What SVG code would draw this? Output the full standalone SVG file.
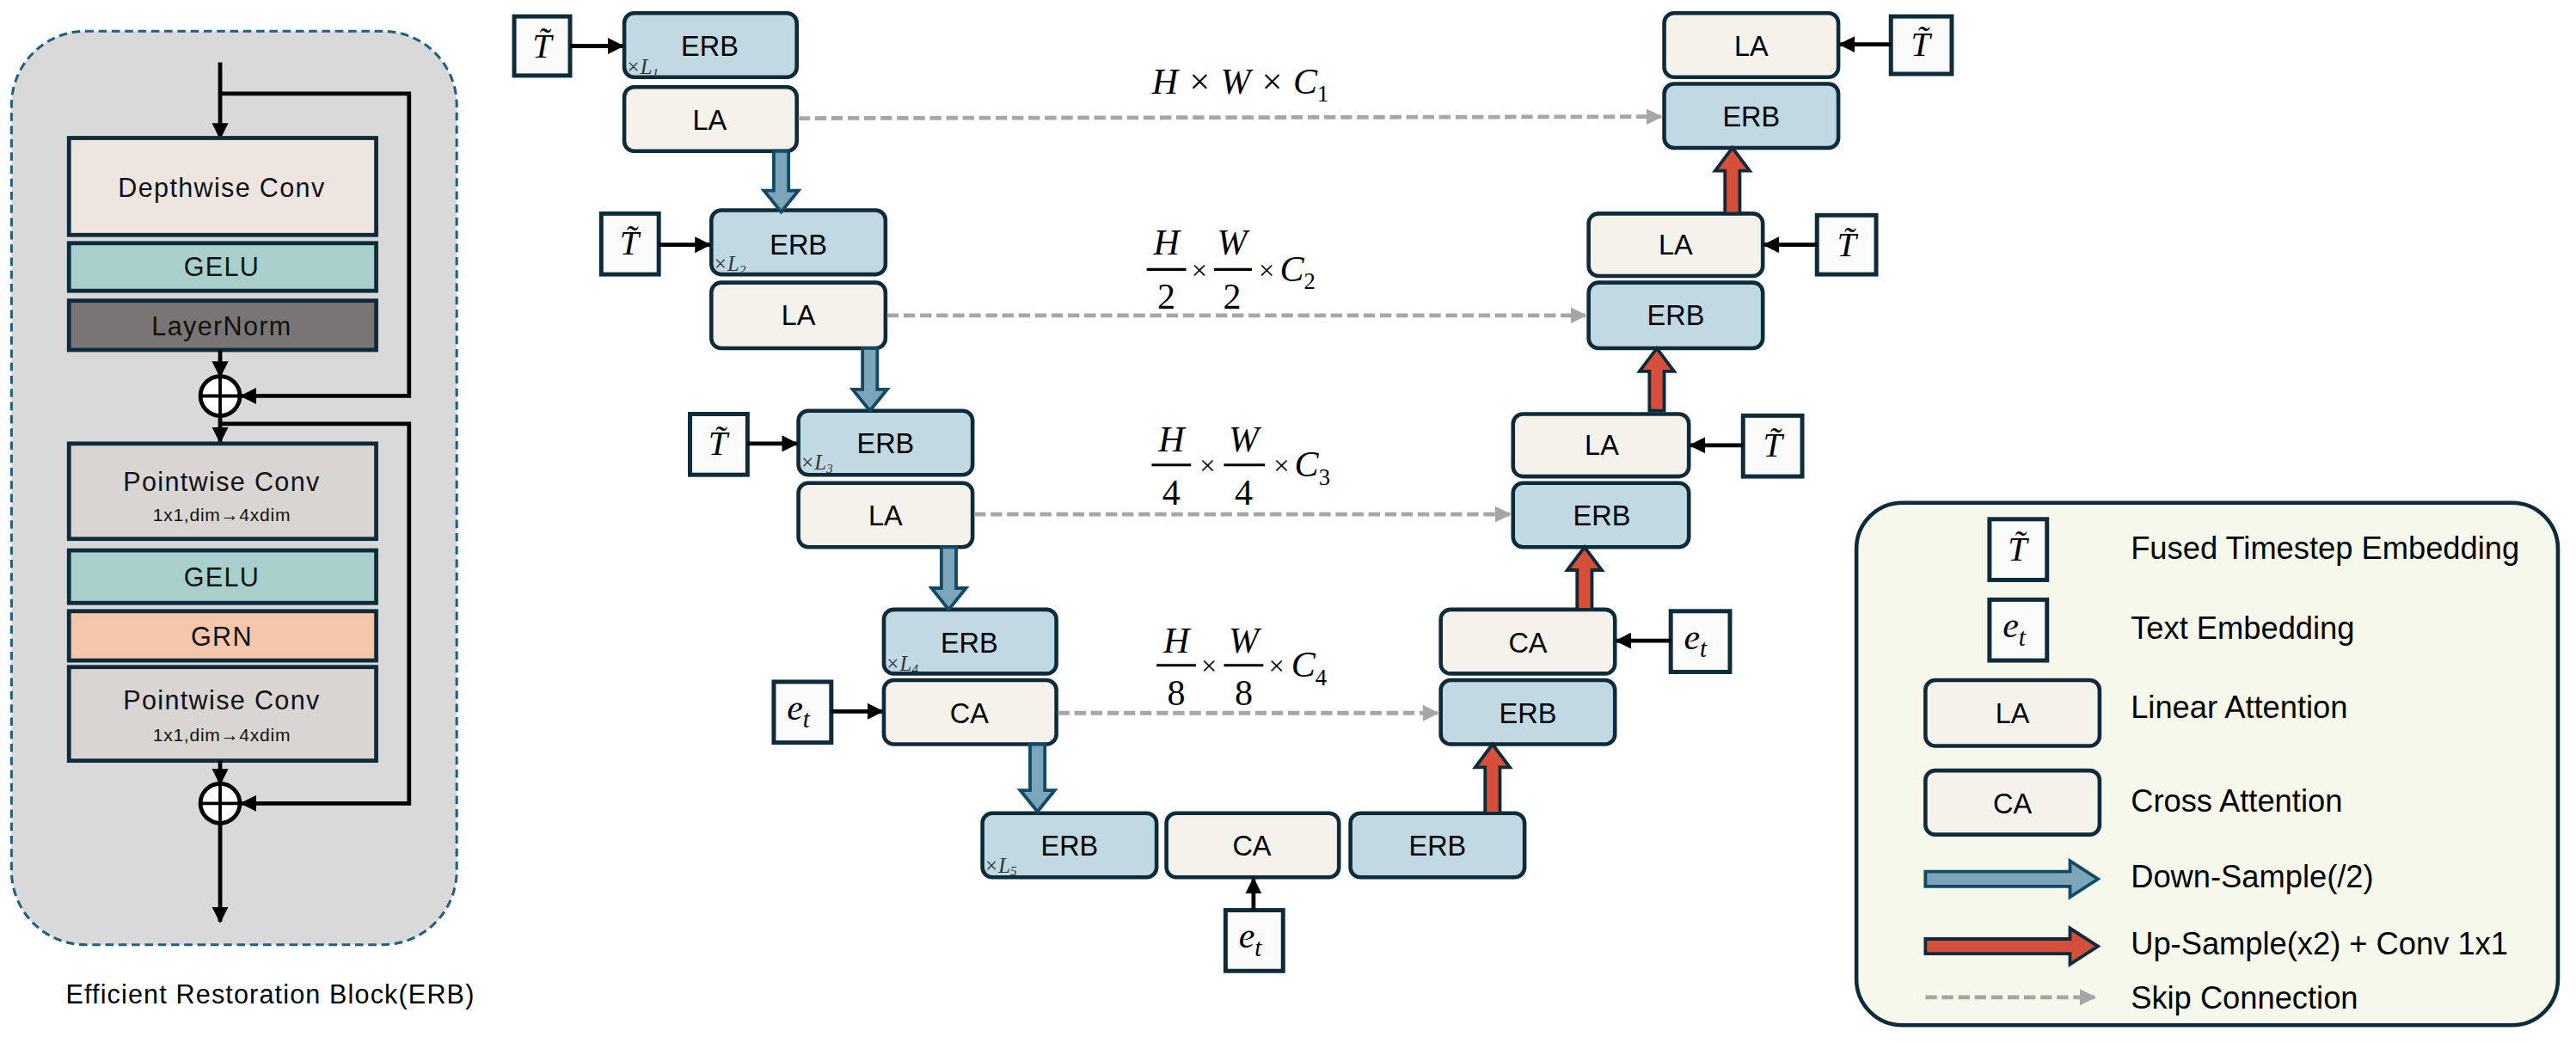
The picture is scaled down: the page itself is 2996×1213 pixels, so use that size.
<svg xmlns="http://www.w3.org/2000/svg" width="2996" height="1213" viewBox="0 0 2996 1213">
<defs>
<style>
.erb{fill:#c0d9e3;stroke:#0e2b3b;stroke-width:2.4}
.la{fill:#f5f1eb;stroke:#0e2b3b;stroke-width:2.4}
.emb{fill:#fafafa;stroke:#0e2b3b;stroke-width:2.6}
.lb{font-family:"Liberation Sans",Arial,sans-serif;font-size:17px;fill:#000;text-anchor:middle}
.lp{font-family:"Liberation Sans",Arial,sans-serif;font-size:16px;fill:#111;text-anchor:middle;letter-spacing:0.7px}
.lps{font-family:"Liberation Sans",Arial,sans-serif;font-size:11px;fill:#111;text-anchor:middle;letter-spacing:0.4px}
.m{font-family:"Liberation Serif","Times New Roman",serif;font-style:italic;fill:#000}
.mn{font-family:"Liberation Serif","Times New Roman",serif;fill:#000}
.xl{font-family:"Liberation Serif","Times New Roman",serif;font-style:italic;font-size:13px;fill:#333}
.leg{font-family:"Liberation Sans",Arial,sans-serif;font-size:19px;fill:#000}
.dn{fill:#7aa5bb;stroke:#134a63;stroke-width:2}
.up{fill:#d64f3a;stroke:#0e2b3b;stroke-width:2}
.skip{stroke:#a6a6a6;stroke-width:2.5;stroke-dasharray:7 3;fill:none}
.blk{stroke:#000;stroke-width:2.5;fill:none}
.pb{stroke:#0e2b3b;stroke-width:2.5}
</style>
<marker id="ah" viewBox="0 0 10 10" refX="9" refY="5" markerWidth="4" markerHeight="4" orient="auto"><path d="M0,0 L10,5 L0,10 z" fill="#000"/></marker>
<marker id="ahg" viewBox="0 0 10 10" refX="9" refY="5" markerWidth="4" markerHeight="4" orient="auto"><path d="M0,0 L10,5 L0,10 z" fill="#a6a6a6"/></marker>
</defs>
<rect width="2996" height="1213" fill="#fff"/>
<g transform="scale(1.91071)">
<g id="erb-detail">
<rect x="7" y="19" width="271" height="556" rx="45" fill="#d9d9d9" stroke="#1f5f7f" stroke-width="1.6" stroke-dasharray="5 3"/>
<line x1="134" y1="38" x2="134" y2="84" class="blk" marker-end="url(#ah)"/>
<polyline points="134,57 249,57 249,241 147,241" class="blk" marker-end="url(#ah)"/>
<rect x="42" y="84" width="187" height="59" fill="#eee5e0" class="pb"/>
<text x="135" y="120" class="lp">Depthwise Conv</text>
<rect x="42" y="148" width="187" height="29" fill="#a9cfcc" class="pb"/>
<text x="135" y="168" class="lp">GELU</text>
<rect x="42" y="183" width="187" height="30" fill="#7a7574" class="pb"/>
<text x="135" y="204" class="lp">LayerNorm</text>
<line x1="134" y1="213" x2="134" y2="229" class="blk" marker-end="url(#ah)"/>
<circle cx="134" cy="241" r="12" fill="#fff" stroke="#000" stroke-width="2.5"/>
<line x1="122" y1="241" x2="146" y2="241" stroke="#000" stroke-width="2"/>
<line x1="134" y1="229" x2="134" y2="253" stroke="#000" stroke-width="2"/>
<line x1="134" y1="253" x2="134" y2="269" class="blk" marker-end="url(#ah)"/>
<polyline points="134,258 249,258 249,489 147,489" class="blk" marker-end="url(#ah)"/>
<rect x="42" y="270" width="187" height="58" fill="#d9d5d2" class="pb"/>
<text x="135" y="299" class="lp">Pointwise Conv</text>
<text x="135" y="317" class="lps">1x1,dim→4xdim</text>
<rect x="42" y="335" width="187" height="32" fill="#a9cfcc" class="pb"/>
<text x="135" y="357" class="lp">GELU</text>
<rect x="42" y="372" width="187" height="30" fill="#f5c6ab" class="pb"/>
<text x="135" y="393" class="lp">GRN</text>
<rect x="42" y="406" width="187" height="57" fill="#d9d5d2" class="pb"/>
<text x="135" y="432" class="lp">Pointwise Conv</text>
<text x="135" y="451" class="lps">1x1,dim→4xdim</text>
<line x1="134" y1="463" x2="134" y2="477" class="blk" marker-end="url(#ah)"/>
<circle cx="134" cy="489" r="12" fill="#fff" stroke="#000" stroke-width="2.5"/>
<line x1="122" y1="489" x2="146" y2="489" stroke="#000" stroke-width="2"/>
<line x1="134" y1="477" x2="134" y2="501" stroke="#000" stroke-width="2"/>
<line x1="134" y1="501" x2="134" y2="561" class="blk" marker-end="url(#ah)"/>
<text x="40" y="611" font-family="Liberation Sans,Arial,sans-serif" font-size="16" letter-spacing="0.6" fill="#000">Efficient Restoration Block(ERB)</text>
</g>

<g id="t1"><rect x="313" y="10" width="34" height="36" class="emb"/><text x="330" y="35" class="m" font-size="21" text-anchor="middle">T̃</text></g>
<g id="erb1"><rect x="380" y="8" width="105" height="39" rx="6" class="erb"/><text x="432" y="34" class="lb">ERB</text><text x="381" y="45" class="xl">×L<tspan font-size="8" dy="2">1</tspan></text></g>
<g id="la1"><rect x="380" y="53" width="105" height="39" rx="6" class="la"/><text x="432" y="79" class="lb">LA</text></g>
<g id="t2"><rect x="366" y="130" width="35" height="37" class="emb"/><text x="383" y="155" class="m" font-size="21" text-anchor="middle">T̃</text></g>
<g id="erb2"><rect x="433" y="128" width="106" height="39" rx="6" class="erb"/><text x="486" y="155" class="lb">ERB</text><text x="434" y="165" class="xl">×L<tspan font-size="8" dy="2">2</tspan></text></g>
<g id="la2"><rect x="433" y="172" width="106" height="40" rx="6" class="la"/><text x="486" y="198" class="lb">LA</text></g>
<g id="t3"><rect x="420" y="252" width="35" height="37" class="emb"/><text x="437" y="277" class="m" font-size="21" text-anchor="middle">T̃</text></g>
<g id="erb3"><rect x="486" y="250" width="106" height="39" rx="6" class="erb"/><text x="539" y="276" class="lb">ERB</text><text x="487" y="286" class="xl">×L<tspan font-size="8" dy="2">3</tspan></text></g>
<g id="la3"><rect x="486" y="294" width="106" height="39" rx="6" class="la"/><text x="539" y="320" class="lb">LA</text></g>
<g id="erb4"><rect x="538" y="371" width="105" height="39" rx="6" class="erb"/><text x="590" y="397" class="lb">ERB</text><text x="539" y="408" class="xl">×L<tspan font-size="8" dy="2">4</tspan></text></g>
<g id="ca4"><rect x="538" y="414" width="105" height="39" rx="6" class="la"/><text x="590" y="440" class="lb">CA</text></g>
<g id="et4"><rect x="471" y="415" width="35" height="37" class="emb"/><text x="479" y="438" class="m" font-size="22">e<tspan font-size="15" dy="5">t</tspan></text></g>

<g id="erb5"><rect x="598" y="495" width="106" height="39" rx="6" class="erb"/><text x="651" y="521" class="lb">ERB</text><text x="599" y="531" class="xl">×L<tspan font-size="8" dy="2">5</tspan></text></g>
<g id="ca5"><rect x="710" y="495" width="105" height="39" rx="6" class="la"/><text x="762" y="521" class="lb">CA</text></g>
<g id="erb6"><rect x="822" y="495" width="106" height="39" rx="6" class="erb"/><text x="875" y="521" class="lb">ERB</text></g>
<g id="et5"><rect x="746" y="554" width="35" height="37" class="emb"/><text x="754" y="577" class="m" font-size="22">e<tspan font-size="15" dy="5">t</tspan></text></g>

<g id="erb-d4"><rect x="877" y="414" width="106" height="39" rx="6" class="erb"/><text x="930" y="440" class="lb">ERB</text></g>
<g id="ca-d4"><rect x="877" y="371" width="106" height="39" rx="6" class="la"/><text x="930" y="397" class="lb">CA</text></g>
<g id="et-d4"><rect x="1017" y="372" width="36" height="37" class="emb"/><text x="1025" y="395" class="m" font-size="22">e<tspan font-size="15" dy="5">t</tspan></text></g>
<g id="erb-d3"><rect x="921" y="294" width="107" height="39" rx="6" class="erb"/><text x="975" y="320" class="lb">ERB</text></g>
<g id="la-d3"><rect x="921" y="252" width="107" height="38" rx="6" class="la"/><text x="975" y="277" class="lb">LA</text></g>
<g id="t-d3"><rect x="1061" y="253" width="36" height="37" class="emb"/><text x="1079" y="278" class="m" font-size="21" text-anchor="middle">T̃</text></g>
<g id="erb-d2"><rect x="967" y="172" width="106" height="40" rx="6" class="erb"/><text x="1020" y="198" class="lb">ERB</text></g>
<g id="la-d2"><rect x="967" y="130" width="106" height="38" rx="6" class="la"/><text x="1020" y="155" class="lb">LA</text></g>
<g id="t-d2"><rect x="1106" y="131" width="36" height="36" class="emb"/><text x="1124" y="156" class="m" font-size="21" text-anchor="middle">T̃</text></g>
<g id="erb-d1"><rect x="1013" y="51" width="106" height="39" rx="6" class="erb"/><text x="1066" y="77" class="lb">ERB</text></g>
<g id="la-d1"><rect x="1013" y="8" width="106" height="39" rx="6" class="la"/><text x="1066" y="34" class="lb">LA</text></g>
<g id="t-d1"><rect x="1151" y="10" width="37" height="35" class="emb"/><text x="1169" y="34" class="m" font-size="21" text-anchor="middle">T̃</text></g>

<g id="dims">
<text x="755" y="57" class="m" font-size="22" text-anchor="middle">H <tspan class="mn">×</tspan> W <tspan class="mn">×</tspan> C<tspan font-size="14" dy="5" font-style="normal">1</tspan></text>
<g>
<text x="710" y="155" class="m" font-size="22" text-anchor="middle">H</text><line x1="698" y1="164" x2="722" y2="164" stroke="#000" stroke-width="1.6"/><text x="710" y="188" class="mn" font-size="22" text-anchor="middle">2</text>
<text x="730" y="170" class="mn" font-size="17" text-anchor="middle">×</text>
<text x="750" y="155" class="m" font-size="22" text-anchor="middle">W</text><line x1="739" y1="164" x2="762" y2="164" stroke="#000" stroke-width="1.6"/><text x="750" y="188" class="mn" font-size="22" text-anchor="middle">2</text>
<text x="771" y="170" class="mn" font-size="17" text-anchor="middle">×</text>
<text x="779" y="171" class="m" font-size="22">C<tspan font-size="14" dy="5" font-style="normal">2</tspan></text>
</g>
<g>
<text x="713" y="275" class="m" font-size="22" text-anchor="middle">H</text><line x1="701" y1="283" x2="725" y2="283" stroke="#000" stroke-width="1.6"/><text x="713" y="307" class="mn" font-size="22" text-anchor="middle">4</text>
<text x="735" y="289" class="mn" font-size="17" text-anchor="middle">×</text>
<text x="757" y="275" class="m" font-size="22" text-anchor="middle">W</text><line x1="745" y1="283" x2="770" y2="283" stroke="#000" stroke-width="1.6"/><text x="757" y="307" class="mn" font-size="22" text-anchor="middle">4</text>
<text x="780" y="289" class="mn" font-size="17" text-anchor="middle">×</text>
<text x="788" y="290" class="m" font-size="22">C<tspan font-size="14" dy="5" font-style="normal">3</tspan></text>
</g>
<g>
<text x="716" y="397" class="m" font-size="22" text-anchor="middle">H</text><line x1="704" y1="405" x2="728" y2="405" stroke="#000" stroke-width="1.6"/><text x="716" y="429" class="mn" font-size="22" text-anchor="middle">8</text>
<text x="736" y="411" class="mn" font-size="17" text-anchor="middle">×</text>
<text x="757" y="397" class="m" font-size="22" text-anchor="middle">W</text><line x1="745" y1="405" x2="769" y2="405" stroke="#000" stroke-width="1.6"/><text x="757" y="429" class="mn" font-size="22" text-anchor="middle">8</text>
<text x="777" y="411" class="mn" font-size="17" text-anchor="middle">×</text>
<text x="786" y="412" class="m" font-size="22">C<tspan font-size="14" dy="5" font-style="normal">4</tspan></text>
</g>
</g>

<g id="connectors">
<line x1="347" y1="28" x2="379" y2="28" class="blk" marker-end="url(#ah)"/>
<line x1="401" y1="149" x2="432" y2="149" class="blk" marker-end="url(#ah)"/>
<line x1="455" y1="270" x2="485" y2="270" class="blk" marker-end="url(#ah)"/>
<line x1="506" y1="433" x2="537" y2="433" class="blk" marker-end="url(#ah)"/>
<line x1="763" y1="554" x2="763" y2="535" class="blk" marker-end="url(#ah)"/>
<line x1="1017" y1="390" x2="984" y2="390" class="blk" marker-end="url(#ah)"/>
<line x1="1061" y1="271" x2="1029" y2="271" class="blk" marker-end="url(#ah)"/>
<line x1="1106" y1="149" x2="1074" y2="149" class="blk" marker-end="url(#ah)"/>
<line x1="1151" y1="27" x2="1120" y2="27" class="blk" marker-end="url(#ah)"/>
<line x1="486" y1="72" x2="1011" y2="71" class="skip" marker-end="url(#ahg)"/>
<line x1="540" y1="192" x2="965" y2="192" class="skip" marker-end="url(#ahg)"/>
<line x1="593" y1="313" x2="919" y2="313" class="skip" marker-end="url(#ahg)"/>
<line x1="644" y1="434" x2="875" y2="434" class="skip" marker-end="url(#ahg)"/>
<polygon class="dn" points="471,92 480,92 480,116 486,116 475.5,129 465,116 471,116"/>
<polygon class="dn" points="525,212 534,212 534,237 540,237 529.5,250 519,237 525,237"/>
<polygon class="dn" points="573,333 582,333 582,358 588,358 577.5,371 567,358 573,358"/>
<polygon class="dn" points="627,453 636,453 636,481 642,481 631.5,494 621,481 627,481"/>
<polygon class="up" points="904,495 913,495 913,467 919,467 908.5,453 898,467 904,467"/>
<polygon class="up" points="960,371 969,371 969,347 975,347 964.5,333 954,347 960,347"/>
<polygon class="up" points="1004,250 1013,250 1013,226 1019,226 1008.5,212 998,226 1004,226"/>
<polygon class="up" points="1050,130 1059,130 1059,104 1065,104 1054.5,90 1044,104 1050,104"/>
</g>

<g id="legend">
<rect x="1130" y="306" width="427" height="318" rx="28" fill="#f7f8ec" stroke="#0e2b3b" stroke-width="2.4"/>
<rect x="1211" y="316" width="35" height="37" class="emb"/><text x="1228" y="341" class="m" font-size="21" text-anchor="middle">T̃</text>
<rect x="1211" y="365" width="35" height="37" class="emb"/><text x="1219" y="388" class="m" font-size="22">e<tspan font-size="15" dy="5">t</tspan></text>
<rect x="1172" y="414" width="106" height="40" rx="6" class="la"/><text x="1225" y="440" class="lb">LA</text>
<rect x="1172" y="469" width="106" height="39" rx="6" class="la"/><text x="1225" y="495" class="lb">CA</text>
<polygon class="dn" points="1172,530.5 1260,530.5 1260,524 1277,535 1260,546 1260,539.5 1172,539.5"/>
<polygon class="up" points="1172,571.5 1260,571.5 1260,565 1277,576 1260,587 1260,580.5 1172,580.5"/>
<line x1="1172" y1="607" x2="1275" y2="607" class="skip" marker-end="url(#ahg)"/>
<text x="1297" y="340" class="leg">Fused Timestep Embedding</text>
<text x="1297" y="389" class="leg">Text Embedding</text>
<text x="1297" y="437" class="leg">Linear Attention</text>
<text x="1297" y="494" class="leg">Cross Attention</text>
<text x="1297" y="540" class="leg">Down-Sample(/2)</text>
<text x="1297" y="581" class="leg">Up-Sample(x2) + Conv 1x1</text>
<text x="1297" y="614" class="leg">Skip Connection</text>
</g>
</g>
</svg>
